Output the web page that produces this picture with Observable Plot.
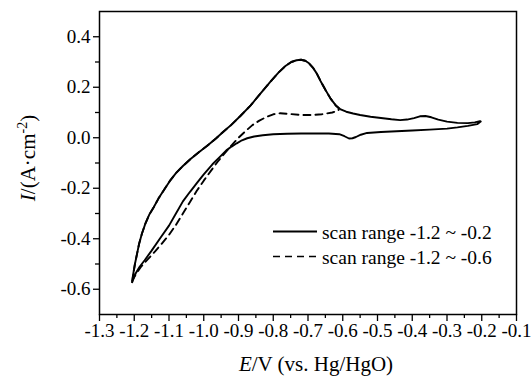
<!DOCTYPE html>
<html>
<head>
<meta charset="utf-8">
<script src="https://cdn.jsdelivr.net/npm/d3@7"></script>
<script src="https://cdn.jsdelivr.net/npm/@observablehq/plot@0.6"></script>
<style>
  html, body { margin: 0; padding: 0; background: #fff; }
  #chart { width: 531px; height: 379px; position: relative; }
</style>
</head>
<body>
<div id="chart"></div>
<script>
// ---- data ----
// solid: scan range -1.2 ~ -0.2 ; anodic sweep (E increasing)
const solidAnodicE = [-1.206, -1.203, -1.198, -1.192, -1.186, -1.178, -1.168, -1.157, -1.144, -1.13, -1.115, -1.098, -1.08, -1.06, -1.038, -1.015, -0.99, -0.965, -0.942, -0.92, -0.894, -0.865, -0.837, -0.808, -0.785, -0.765, -0.748, -0.733, -0.72, -0.708, -0.697, -0.686, -0.675, -0.664, -0.65, -0.635, -0.62, -0.606, -0.59, -0.57, -0.55, -0.52, -0.49, -0.46, -0.435, -0.415, -0.395, -0.378, -0.362, -0.345, -0.325, -0.30, -0.27, -0.24, -0.22, -0.205];
const solidAnodicI = [-0.572, -0.54, -0.5, -0.46, -0.42, -0.38, -0.34, -0.305, -0.275, -0.24, -0.208, -0.172, -0.14, -0.112, -0.084, -0.058, -0.032, -0.003, 0.026, 0.052, 0.087, 0.128, 0.175, 0.222, 0.258, 0.284, 0.3, 0.307, 0.309, 0.305, 0.295, 0.278, 0.255, 0.225, 0.19, 0.155, 0.128, 0.112, 0.103, 0.096, 0.09, 0.083, 0.078, 0.073, 0.07, 0.072, 0.078, 0.085, 0.086, 0.081, 0.072, 0.064, 0.059, 0.058, 0.061, 0.066];
// solid: cathodic sweep (E decreasing)
const solidCathodicE = [-0.203, -0.213, -0.24, -0.27, -0.30, -0.35, -0.40, -0.445, -0.49, -0.53, -0.548, -0.562, -0.572, -0.582, -0.595, -0.61, -0.64, -0.68, -0.72, -0.76, -0.80, -0.83, -0.855, -0.875, -0.89, -0.905, -0.92, -0.935, -0.955, -0.975, -1.0, -1.02, -1.04, -1.06, -1.08, -1.1, -1.125, -1.15, -1.17, -1.185, -1.197, -1.206];
const solidCathodicI = [0.064, 0.054, 0.047, 0.041, 0.036, 0.032, 0.029, 0.026, 0.023, 0.019, 0.012, 0.003, -0.002, -0.003, 0.006, 0.014, 0.017, 0.017, 0.017, 0.016, 0.014, 0.01, 0.005, -0.002, -0.01, -0.022, -0.035, -0.05, -0.078, -0.105, -0.145, -0.18, -0.215, -0.252, -0.3, -0.348, -0.397, -0.447, -0.485, -0.512, -0.54, -0.572];

// dashed: scan range -1.2 ~ -0.6 ; anodic sweep overlaps the solid one up to -0.6
const dashedAnodicE = [-1.206, -1.203, -1.198, -1.192, -1.186, -1.178, -1.168, -1.157, -1.144, -1.13, -1.115, -1.098, -1.08, -1.06, -1.038, -1.015, -0.99, -0.965, -0.942, -0.92, -0.894, -0.865, -0.837, -0.808, -0.785, -0.765, -0.748, -0.733, -0.72, -0.708, -0.697, -0.686, -0.675, -0.664, -0.65, -0.635, -0.62, -0.612];
const dashedAnodicI = [-0.572, -0.54, -0.5, -0.46, -0.42, -0.38, -0.34, -0.305, -0.275, -0.24, -0.208, -0.172, -0.14, -0.112, -0.084, -0.058, -0.032, -0.003, 0.026, 0.052, 0.087, 0.128, 0.175, 0.222, 0.258, 0.284, 0.3, 0.307, 0.309, 0.305, 0.295, 0.278, 0.255, 0.225, 0.19, 0.155, 0.128, 0.118];
// dashed: cathodic sweep
const dashedCathodicE = [-0.612, -0.63, -0.66, -0.69, -0.72, -0.75, -0.78, -0.80, -0.82, -0.84, -0.86, -0.88, -0.9, -0.92, -0.94, -0.96, -0.98, -1.0, -1.02, -1.04, -1.06, -1.08, -1.1, -1.12, -1.14, -1.16, -1.18, -1.195, -1.206];
const dashedCathodicI = [0.108, 0.1, 0.093, 0.09, 0.09, 0.094, 0.097, 0.093, 0.082, 0.068, 0.05, 0.026, 0.0, -0.03, -0.062, -0.095, -0.132, -0.17, -0.21, -0.255, -0.3, -0.345, -0.385, -0.418, -0.45, -0.48, -0.51, -0.54, -0.565];

// axes
const xDomain = [-1.3, -0.1];
const yDomain = [-0.7, 0.5];
const xTicks = [-1.3, -1.2, -1.1, -1.0, -0.9, -0.8, -0.7, -0.6, -0.5, -0.4, -0.3, -0.2, -0.1];
const xMinorTicks = [-1.25, -1.15, -1.05, -0.95, -0.85, -0.75, -0.65, -0.55, -0.45, -0.35, -0.25, -0.15];
const yTicks = [-0.6, -0.4, -0.2, 0.0, 0.2, 0.4];
const yMinorTicks = [-0.5, -0.3, -0.1, 0.1, 0.3];

const seriesNames = ["scan range -1.2 ~ -0.2", "scan range -1.2 ~ -0.6"];
const xTitle = ["E", "/V (vs. Hg/HgO)"];
const yTitle = ["I", "/(A\u00B7cm", "-2", ")"];

// ---- build tables ----
const toRows = (E, I) => E.map((e, i) => ({E: e, I: I[i]}));
const solid = toRows(solidAnodicE.concat(solidCathodicE), solidAnodicI.concat(solidCathodicI));
const dashed = toRows(dashedAnodicE.concat(dashedCathodicE), dashedAnodicI.concat(dashedCathodicI));

const FONT = "'Liberation Serif', 'Times New Roman', Times, serif";
const fmt = d => d.toFixed(1);

const chart = Plot.plot({
  width: 531,
  height: 379,
  marginLeft: 99,
  marginRight: 15,
  marginTop: 11,
  marginBottom: 65,
  style: {fontFamily: FONT, fontSize: "19px", color: "black", background: "white", overflow: "visible"},
  x: {domain: xDomain, label: null},
  y: {domain: yDomain, label: null},
  marks: [
    Plot.axisX({ticks: xMinorTicks, tickSize: 4, tickFormat: () => "", label: null, strokeWidth: 1.3}),
    Plot.axisX({ticks: xTicks, tickSize: 7, tickPadding: 2, tickFormat: fmt, label: null, strokeWidth: 1.3, fill: "black"}),
    Plot.axisY({ticks: yMinorTicks, tickSize: 4, tickFormat: () => "", label: null, strokeWidth: 1.3}),
    Plot.axisY({ticks: yTicks, tickSize: 6, tickPadding: 3, tickFormat: fmt, label: null, strokeWidth: 1.3, fill: "black"}),
    Plot.line(dashed, {x: "E", y: "I", stroke: "black", strokeWidth: 1.9, strokeDasharray: "7,5", strokeLinejoin: "round"}),
    Plot.line(solid, {x: "E", y: "I", stroke: "black", strokeWidth: 1.9, strokeLinejoin: "round"}),
    Plot.frame({stroke: "black", strokeWidth: 1.5})
  ]
});

document.getElementById("chart").appendChild(chart);

const svg = d3.select(chart);
// serif tick labels, as in the reference
svg.selectAll("text")
  .style("font-family", FONT)
  .style("font-size", "19px")
  .style("fill", "black");

// ---- axis titles & legend ----
const xt = svg.append("text")
  .attr("x", 316).attr("y", 371)
  .style("text-anchor", "middle")
  .style("font-family", FONT).style("font-size", "21px").attr("fill", "black");
xt.append("tspan").attr("font-style", "italic").text(xTitle[0]);
xt.append("tspan").text(xTitle[1]);

const yt = svg.append("text")
  .attr("transform", "translate(35,158) rotate(-90)")
  .style("text-anchor", "middle")
  .style("font-family", FONT).style("font-size", "21px").attr("fill", "black");
yt.append("tspan").attr("font-style", "italic").text(yTitle[0]);
yt.append("tspan").text(yTitle[1]);
yt.append("tspan").style("font-size", "14px").attr("dy", -8).text(yTitle[2]);
yt.append("tspan").attr("dy", 8).text(yTitle[3]);

const legend = svg.append("g");
const legendRows = [
  {name: seriesNames[0], dash: null, y: 231.5},
  {name: seriesNames[1], dash: "7,5", y: 256.5}
];
legendRows.forEach(r => {
  legend.append("line")
    .attr("x1", 273).attr("x2", 317).attr("y1", r.y).attr("y2", r.y)
    .attr("stroke", "black").attr("stroke-width", r.dash ? 1.3 : 1.8)
    .attr("stroke-dasharray", r.dash);
  legend.append("text")
    .attr("x", 322).attr("y", r.y + 7)
    .style("text-anchor", "start")
    .style("font-family", FONT).style("font-size", "19.5px").attr("fill", "black")
    .text(r.name);
});
</script>
</body>
</html>
